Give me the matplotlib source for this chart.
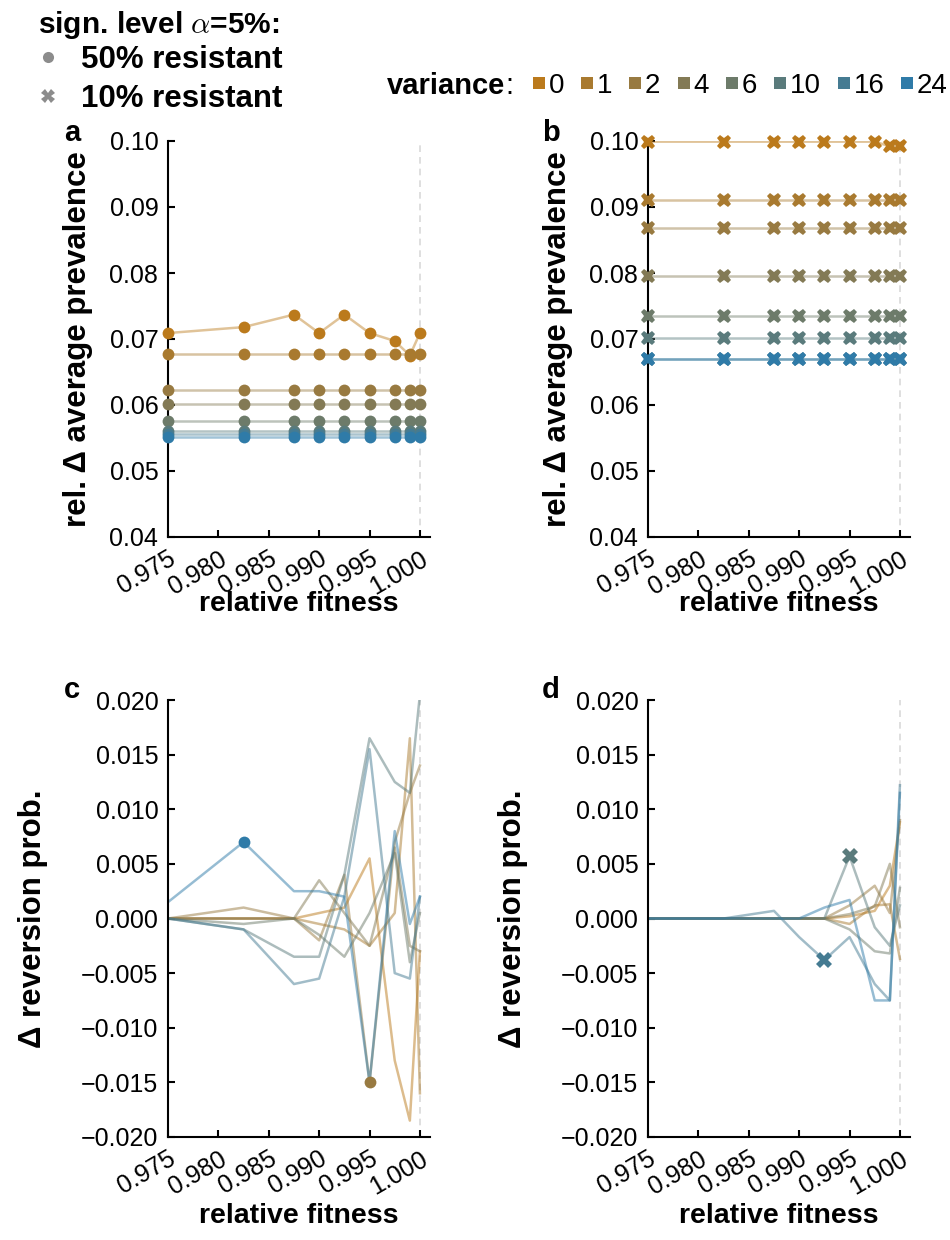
import numpy as np
import matplotlib
matplotlib.use("Agg")
import matplotlib.pyplot as plt
from matplotlib.lines import Line2D

plt.rcParams['font.family'] = ['Liberation Sans', 'DejaVu Sans']
plt.rcParams['mathtext.fontset'] = 'cm'
plt.rcParams['axes.unicode_minus'] = True

# relative fitness values
fitness = [0.975, 0.9825, 0.9875, 0.99, 0.9925, 0.995, 0.9975, 0.999, 1.0]
variances = ["0", "1", "2", "4", "6", "10", "16", "24"]
colors = ["#bb7a1c", "#a97a2f", "#987a41", "#837a55", "#6d7b6a", "#5a7b7c", "#457b92", "#2f7ba8"]

# a: 50% resistant, rel. delta average prevalence
prev_50 = {
    "0": [0.0709, 0.0718, 0.0737, 0.0709, 0.0737, 0.0709, 0.0697, 0.0675, 0.0709],
    "1": [0.0677] * 9,
    "2": [0.0622] * 9,
    "4": [0.0601] * 9,
    "6": [0.0576] * 9,
    "10": [0.0561] * 9,
    "16": [0.0556] * 9,
    "24": [0.0551] * 9,
}
# b: 10% resistant
prev_10 = {
    "0": [0.0999, 0.0999, 0.0999, 0.0999, 0.0999, 0.0999, 0.0999, 0.0992, 0.0992],
    "1": [0.0910] * 9,
    "2": [0.0868] * 9,
    "4": [0.0796] * 9,
    "6": [0.0735] * 9,
    "10": [0.0702] * 9,
    "16": [0.0670] * 9,
    "24": [0.0669] * 9,
}
# c: 50% resistant, delta reversion prob.
rev_50 = {
    "0": [0, 0, 0, 0.0005, 0.001, 0.0055, -0.013, -0.0185, -0.003],
    "1": [0, 0, 0, -0.0005, -0.001, -0.0025, 0.0005, 0.0165, -0.016],
    "2": [0, 0.001, 0, -0.002, 0.004, -0.015, 0.007, 0.0115, 0.014],
    "4": [0, 0, 0, 0.0035, 0.0005, -0.0025, 0.0065, -0.0025, -0.003],
    "6": [0, -0.0005, 0, -0.0015, -0.0035, 0.0005, 0.006, -0.004, 0.0005],
    "10": [0, -0.001, -0.0035, -0.0035, 0.004, 0.0165, 0.0125, 0.0115, 0.0205],
    "16": [0, -0.001, -0.006, -0.0055, 0.002, 0.0155, -0.005, -0.0055, 0.002],
    "24": [0.0015, 0.007, 0.0025, 0.0025, 0.002, -0.015, 0.008, -0.0005, 0.002],
}
# d: 10% resistant
rev_10 = {
    "0": [0, 0, 0, 0, 0, 0.0002, 0.0007, 0.003, 0.0088],
    "1": [0, 0, 0, 0, 0, -0.0005, 0.0012, 0.0013, -0.0037],
    "2": [0, 0, 0, 0, 0, 0.0012, 0.003, 0.0005, 0.009],
    "4": [0, 0, 0, 0, 0, 0.0004, 0.0011, 0.005, -0.0008],
    "6": [0, 0, 0, 0, 0, -0.001, -0.003, -0.0032, 0.0028],
    "10": [0, 0, 0, 0, 0, 0.0057, -0.0008, -0.0025, 0.0012],
    "16": [0, 0, 0.0007, -0.0017, -0.0038, -0.0017, -0.006, -0.0075, 0.0122],
    "24": [0, 0, 0, 0, 0.001, 0.0017, -0.0075, -0.0075, 0.0115],
}
# significant points (variance, index)
sig_c = [("24", 1), ("2", 5)]
sig_d = [("10", 5), ("16", 4)]

W, H = 950, 1240
fig = plt.figure(figsize=(W / 100, H / 100), dpi=100)

def px_axes(l, t, r, b):
    return fig.add_axes([l / W, 1 - b / H, (r - l) / W, (b - t) / H])

ax_a = px_axes(168, 141, 430, 537)
ax_b = px_axes(648, 141, 910, 537)
ax_c = px_axes(168, 700, 430, 1137)
ax_d = px_axes(648, 700, 910, 1137)

def style(ax, ylim, yticks, yfmt, ylabel, xlab_y, ylab_x):
    ax.set_xlim(0.975, 1.001)
    ax.set_ylim(*ylim)
    ax.axvline(1.0, color="#d9d9d9", ls=(0, (4, 3)), lw=1.2, zorder=0)
    ax.spines["top"].set_visible(False)
    ax.spines["right"].set_visible(False)
    ax.spines["left"].set_linewidth(1.5)
    ax.spines["bottom"].set_linewidth(1.5)
    ax.set_xticks([0.975, 0.98, 0.985, 0.99, 0.995, 1.0])
    ax.set_xticklabels(["0.975", "0.980", "0.985", "0.990", "0.995", "1.000"],
                       rotation=30, ha="right", rotation_mode="anchor")
    ax.set_yticks(yticks)
    ax.set_yticklabels([(yfmt % v).replace("-", "\u2212") for v in yticks])
    ax.tick_params(direction="in", length=5, width=1.5, labelsize=18, pad=7)
    ax.set_xlabel("relative fitness", fontsize=20.5, fontweight="bold", va="center")
    ax.xaxis.set_label_coords(0.5, xlab_y)
    ax.set_ylabel(ylabel, fontsize=22.5, fontweight="bold", va="center")
    ax.yaxis.set_label_coords(ylab_x, 0.5)

for ax, data, mk, ms in [(ax_a, prev_50, "o", 8.5), (ax_b, prev_10, "X", 10.5)]:
    for v, c in zip(variances, colors):
        ax.plot(fitness, data[v], color=c, alpha=0.45, lw=1.8, zorder=2)
        ax.plot(fitness, data[v], ls="none", marker=mk, ms=ms, color=c,
                markeredgewidth=0, clip_on=False, zorder=3)
    style(ax, (0.04, 0.10), [0.04, 0.05, 0.06, 0.07, 0.08, 0.09, 0.10], "%.2f",
          "rel. \u0394 average prevalence", -0.17, -0.344)

for ax, data, sig, mk, ms in [(ax_c, rev_50, sig_c, "o", 8.5), (ax_d, rev_10, sig_d, "X", 11)]:
    for v, c in zip(variances, colors):
        ax.plot(fitness, data[v], color=c, alpha=0.5, lw=1.8, zorder=2)
    for v, i in sig:
        c = colors[variances.index(v)]
        ax.plot(fitness[i], data[v][i], ls="none", marker=mk, ms=ms, color=c,
                markeredgewidth=0, zorder=3)
    style(ax, (-0.02, 0.02), [-0.02, -0.015, -0.01, -0.005, 0.0, 0.005, 0.01, 0.015, 0.02],
          "%.3f", "\u0394 reversion prob.", -0.18, -0.515)

for lab, x, y in [("a", 72, 133), ("b", 551, 133), ("c", 72, 690), ("d", 551, 690)]:
    fig.text(x / W, 1 - y / H, lab, fontsize=21, fontweight="bold", ha="center", va="center")

# significance legend
fig.text(38 / W, 1 - 25 / H, r"sign. level $\alpha$=5%:", fontsize=21.5, fontweight="bold",
         va="center")
sig_handles = [
    Line2D([], [], ls="none", marker="o", ms=8, color="#8c8c8c", markeredgewidth=0),
    Line2D([], [], ls="none", marker="X", ms=10, color="#8c8c8c", markeredgewidth=0),
]
fig.legend(sig_handles, ["50% resistant", "10% resistant"], loc="upper left",
           bbox_to_anchor=(34 / W, 1 - 45 / H), frameon=False,
           prop={"size": 22.5, "weight": "bold"}, handletextpad=0.6,
           labelspacing=0.3, handlelength=0.9, borderpad=0, borderaxespad=0)

# variance legend
vt = fig.text(387 / W, 1 - 86 / H, "variance", fontsize=21, fontweight="bold", va="center")
fig.canvas.draw()
bb = vt.get_window_extent()
fig.text(bb.x1 / W, 1 - 86 / H, ":", fontsize=21, va="center")
var_handles = [Line2D([], [], ls="none", marker="s", ms=8, color=c, markeredgewidth=0)
               for c in colors]
fig.legend(var_handles, variances, loc="center right", ncol=8,
           bbox_to_anchor=(948 / W, 1 - 86 / H), frameon=False, prop={"size": 20},
           handletextpad=0.1, columnspacing=0.58, handlelength=0.5, borderaxespad=0,
           borderpad=0)

fig.savefig("out.png", dpi=100)
